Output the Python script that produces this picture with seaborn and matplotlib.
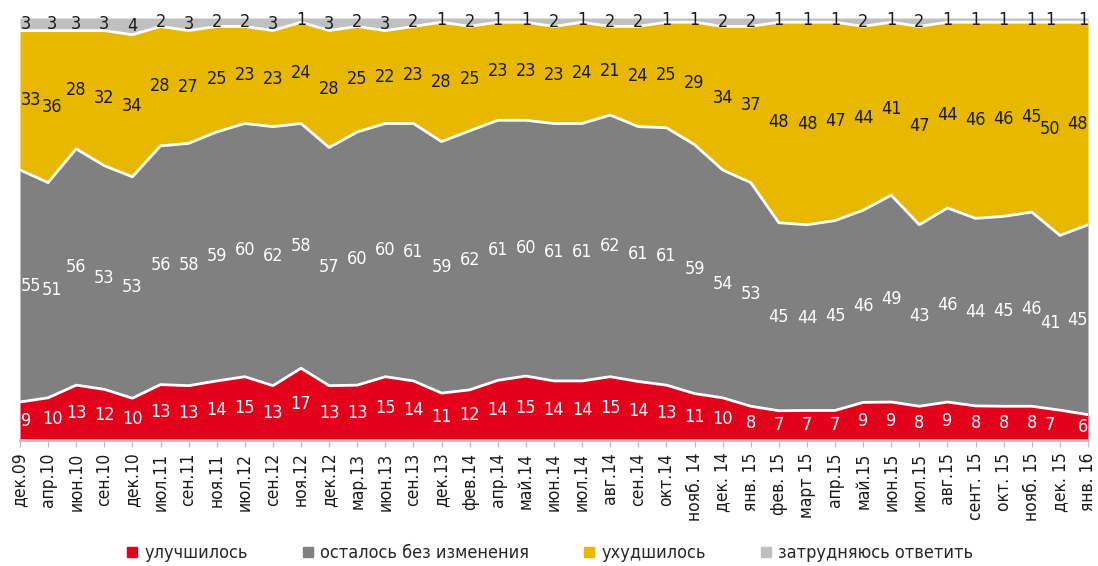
import matplotlib
matplotlib.use("Agg")
import matplotlib.pyplot as plt
from matplotlib.lines import Line2D
from matplotlib import font_manager
import numpy as np
import seaborn as sns

months = [
    "дек.09", "апр.10", "июн.10", "сен.10", "дек.10", "июл.11", "сен.11", "ноя.11",
    "июл.12", "сен.12", "ноя.12", "дек.12", "мар.13", "июн.13", "сен.13", "дек.13",
    "фев.14", "апр.14", "май.14", "июн.14", "июл.14", "авг.14", "сен.14", "окт.14",
    "нояб. 14", "дек. 14", "янв. 15", "фев. 15", "март 15", "апр.15", "май.15",
    "июн.15", "июл.15", "авг.15", "сент. 15", "окт. 15", "нояб. 15", "дек. 15", "янв. 16",
]
improved = [9, 10, 13, 12, 10, 13, 13, 14, 15, 13, 17, 13, 13, 15, 14, 11, 12, 14, 15, 14,
            14, 15, 14, 13, 11, 10, 8, 7, 7, 7, 9, 9, 8, 9, 8, 8, 8, 7, 6]
unchanged = [55, 51, 56, 53, 53, 56, 58, 59, 60, 62, 58, 57, 60, 60, 61, 59, 62, 61, 60, 61,
             61, 62, 61, 61, 59, 54, 53, 45, 44, 45, 46, 49, 43, 46, 44, 45, 46, 41, 45]
worse = [33, 36, 28, 32, 34, 28, 27, 25, 23, 23, 24, 28, 25, 22, 23, 28, 25, 23, 23, 23,
         24, 21, 24, 25, 29, 34, 37, 48, 48, 47, 44, 41, 47, 44, 46, 46, 45, 50, 48]
unsure = [3, 3, 3, 3, 4, 2, 3, 2, 2, 3, 1, 3, 2, 3, 2, 1, 2, 1, 1, 2,
          1, 2, 2, 1, 1, 2, 2, 1, 1, 1, 2, 1, 2, 1, 1, 1, 1, 1, 1]

series_names = ["улучшилось", "осталось без изменения", "ухудшилось", "затрудняюсь ответить"]
colors = ["#E2001A", "#808080", "#E8B800", "#C0C0C0"]
label_colors = ["white", "white", "#1a1a1a", "#1a1a1a"]

sns.set_theme(style="white")
names = {f.name for f in font_manager.fontManager.ttflist}
narrow = [n for n in ["Liberation Sans Narrow"] if n in names]
plt.rcParams["font.family"] = narrow + ["DejaVu Sans"]
plt.rcParams["font.stretch"] = "condensed"

data = np.array([improved, unchanged, worse, unsure], dtype=float)
share = data / data.sum(axis=0) * 100
cum = np.cumsum(share, axis=0)
x = np.arange(len(months))
last = len(x) - 1

fig = plt.figure(figsize=(10.98, 5.66), dpi=100)
ax = fig.add_axes([0.0182, 0.2226, 0.9727, 0.7456])

ax.stackplot(x, share, colors=colors, linewidth=0)
for i in range(3):
    sns.lineplot(x=x, y=cum[i], color="white", linewidth=2, ax=ax)

# value labels at the middle of each band, nudged at the crowded ends
for s in range(4):
    lower = cum[s - 1] if s > 0 else np.zeros(len(x))
    mids = (lower + cum[s]) / 2
    for i in x:
        ha, xi = "center", float(i)
        if i == 0:
            ha, xi = "left", i + 0.02
        elif i == 1:
            xi = i + 0.15
        elif i == last - 1:
            xi = i - 0.35
        elif i == last:
            ha, xi = "right", float(i)
        ax.text(xi, mids[i], str(data[s][i].astype(int)), ha=ha, va="center",
                color=label_colors[s], fontsize=13)

ax.set_xlim(0, last)
ax.set_ylim(0, 100)
ax.set_xticks(x)
ax.set_xticklabels(months, rotation=90, fontsize=12.5, color="#1a1a1a")
ax.set_yticks([])
ax.tick_params(axis="x", length=5, width=1, color="#BFBFBF", bottom=True, pad=4)
for side in ["top", "right", "left"]:
    ax.spines[side].set_visible(False)
ax.spines["bottom"].set_color("#BFBFBF")
ax.spines["bottom"].set_linewidth(2)

handles = [Line2D([], [], marker="s", linestyle="none", markersize=7,
                  markerfacecolor=c, markeredgecolor=c) for c in colors]
fig.legend(handles, series_names, loc="center", bbox_to_anchor=(0.5, 0.023), ncol=4,
           frameon=False, fontsize=13, handletextpad=0.3, columnspacing=2.9,
           handlelength=0.8)

fig.savefig("out.png", dpi=100)
